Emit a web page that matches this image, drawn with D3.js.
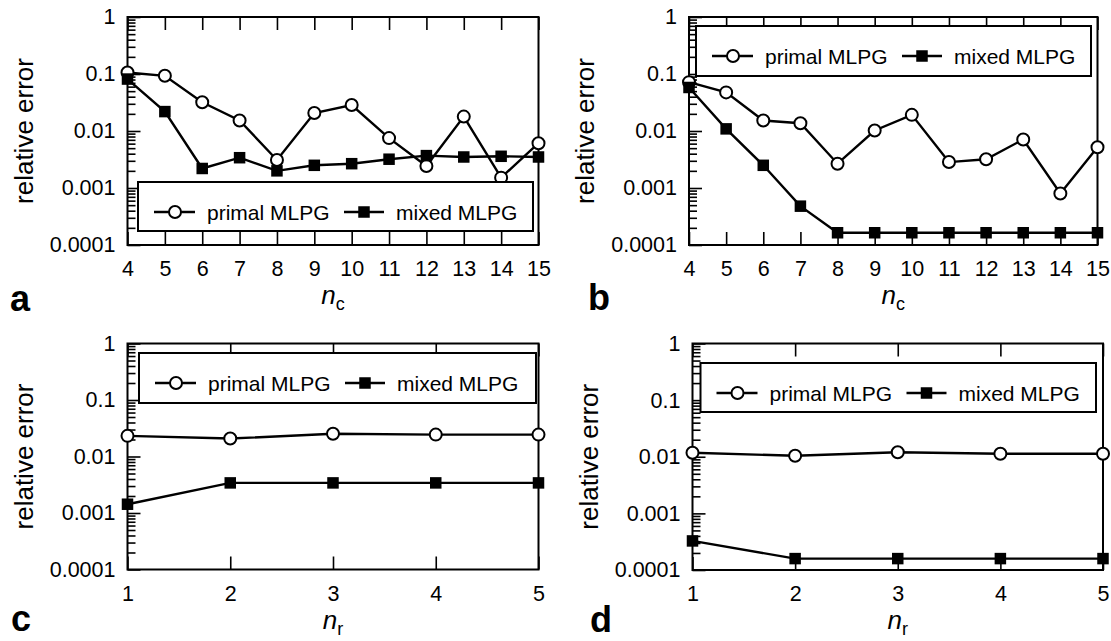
<!DOCTYPE html>
<html>
<head>
<meta charset="utf-8">
<script src="https://cdn.jsdelivr.net/npm/d3@7"></script>
<style>
  html, body { margin: 0; padding: 0; background: #fff; }
  svg { display: block; font-family: "Liberation Sans", Arial, Helvetica, sans-serif; }
  svg text { font-family: "Liberation Sans", Arial, Helvetica, sans-serif; }
</style>
</head>
<body>
<svg id="chart" width="1111" height="641"></svg>
<script>
// ---------- data ----------
const ncValues = [4, 5, 6, 7, 8, 9, 10, 11, 12, 13, 14, 15];
const nrValues = [1, 2, 3, 4, 5];
const yTickValues = [0.0001, 0.001, 0.01, 0.1, 1];
const yTickLabels = ["0.0001", "0.001", "0.01", "0.1", "1"];
const seriesNames = ["primal MLPG", "mixed MLPG"];

const primalA = [0.106, 0.093, 0.032, 0.0153, 0.0031, 0.0207, 0.0286, 0.0075, 0.00243, 0.0179, 0.00152, 0.0061];
const mixedA  = [0.0815, 0.0219, 0.0022, 0.0034, 0.0020, 0.0025, 0.00267, 0.0032, 0.0037, 0.0035, 0.0036, 0.0035];

const primalB = [0.072, 0.0476, 0.0153, 0.0137, 0.00267, 0.0102, 0.0192, 0.00285, 0.0032, 0.0071, 0.0008, 0.0052];
const mixedB  = [0.058, 0.0109, 0.0025, 0.00048, 0.000164, 0.000164, 0.000164, 0.000164, 0.000164, 0.000164, 0.000164, 0.000164];

const primalC = [0.0232, 0.0208, 0.0252, 0.0244, 0.0244];
const mixedC  = [0.00143, 0.00341, 0.00341, 0.00341, 0.00341];

const primalD = [0.0118, 0.0104, 0.0120, 0.0113, 0.0113];
const mixedD  = [0.000326, 0.000159, 0.000159, 0.000159, 0.000159];

// ---------- layout ----------
const panels = [
  { letter: "a", sub: "c", xs: ncValues, primal: primalA, mixed: mixedA,
    left: 127.5, right: 538.5, top: 17, bottom: 245, letterX: 10, letterY: 311,
    legend: { x0: 138, x1: 533, y0: 182, y1: 231 } },
  { letter: "b", sub: "c", xs: ncValues, primal: primalB, mixed: mixedB,
    left: 689, right: 1097.5, top: 17, bottom: 245, letterX: 588, letterY: 310,
    legend: { x0: 696, x1: 1091, y0: 26, y1: 76 } },
  { letter: "c", sub: "r", xs: nrValues, primal: primalC, mixed: mixedC,
    left: 127.5, right: 538.5, top: 343.5, bottom: 569.5, letterX: 11, letterY: 631,
    legend: { x0: 139, x1: 536, y0: 353, y1: 403 } },
  { letter: "d", sub: "r", xs: nrValues, primal: primalD, mixed: mixedD,
    left: 692.5, right: 1103, top: 343.5, bottom: 570, letterX: 590, letterY: 632,
    legend: { x0: 700.5, x1: 1096, y0: 363, y1: 412 } }
];

const svg = d3.select("#chart");
const TICK_FONT = 21.5;
const FONT = "Liberation Sans, Arial, Helvetica, sans-serif";

// minor ticks for log axis
const minorTicks = [];
for (let e = -4; e < 0; e++) {
  for (let m = 2; m <= 9; m++) minorTicks.push(m * Math.pow(10, e));
}

function drawCircle(g, x, y) {
  g.append("circle").attr("cx", x).attr("cy", y).attr("r", 6)
    .attr("fill", "#fff").attr("stroke", "#000").attr("stroke-width", 2);
}
function drawSquare(g, x, y) {
  const s = 11.5;
  g.append("rect").attr("x", x - s / 2).attr("y", y - s / 2)
    .attr("width", s).attr("height", s).attr("fill", "#000");
}
function styleAxis(sel) {
  sel.attr("font-family", FONT).attr("font-size", TICK_FONT);
  sel.select(".domain").remove();
  sel.selectAll("line").attr("stroke-width", 1.6).attr("stroke", "#000");
  sel.selectAll("text").attr("fill", "#000");
}

panels.forEach(p => {
  const x = d3.scaleLinear().domain(d3.extent(p.xs)).range([p.left, p.right]);
  const y = d3.scaleLog().domain([1e-4, 1]).range([p.bottom, p.top]);
  const g = svg.append("g");

  // bottom axis (ticks inward)
  g.append("g").attr("transform", `translate(0,${p.bottom})`)
    .call(d3.axisBottom(x).tickValues(p.xs).tickSizeInner(-13).tickSizeOuter(0)
      .tickPadding(16).tickFormat(d3.format("d")))
    .call(styleAxis);

  // top axis (ticks inward, no labels)
  g.append("g").attr("transform", `translate(0,${p.top})`)
    .call(d3.axisTop(x).tickValues(p.xs).tickSizeInner(-13).tickSizeOuter(0).tickFormat(""))
    .call(styleAxis);

  // left axis: major
  g.append("g").attr("transform", `translate(${p.left},0)`)
    .call(d3.axisLeft(y).tickValues(yTickValues).tickSizeInner(-13).tickSizeOuter(0)
      .tickPadding(12).tickFormat((d, i) => yTickLabels[i]))
    .call(styleAxis);

  // left axis: minor
  g.append("g").attr("transform", `translate(${p.left},0)`)
    .call(d3.axisLeft(y).tickValues(minorTicks).tickSizeInner(-8).tickSizeOuter(0).tickFormat(""))
    .call(styleAxis);

  // frame
  g.append("rect").attr("x", p.left).attr("y", p.top)
    .attr("width", p.right - p.left).attr("height", p.bottom - p.top)
    .attr("fill", "none").attr("stroke", "#000").attr("stroke-width", 2);

  // data lines
  const line = d3.line().x(d => x(d[0])).y(d => y(d[1]));
  const pd = p.xs.map((v, i) => [v, p.primal[i]]);
  const md = p.xs.map((v, i) => [v, p.mixed[i]]);
  g.append("path").datum(pd).attr("d", line).attr("fill", "none")
    .attr("stroke", "#000").attr("stroke-width", 2.4);
  pd.forEach(d => drawCircle(g, x(d[0]), y(d[1])));
  g.append("path").datum(md).attr("d", line).attr("fill", "none")
    .attr("stroke", "#000").attr("stroke-width", 2.4);
  md.forEach(d => drawSquare(g, x(d[0]), y(d[1])));

  // legend
  const L = p.legend;
  g.append("rect").attr("x", L.x0).attr("y", L.y0)
    .attr("width", L.x1 - L.x0).attr("height", L.y1 - L.y0)
    .attr("fill", "#fff").attr("stroke", "#000").attr("stroke-width", 2);
  const ly = L.y0 + 30;
  g.append("line").attr("x1", L.x0 + 16).attr("x2", L.x0 + 57).attr("y1", ly).attr("y2", ly)
    .attr("stroke", "#000").attr("stroke-width", 2.4);
  drawCircle(g, L.x0 + 37, ly);
  g.append("text").attr("x", L.x0 + 69).attr("y", ly + 7.5)
    .attr("font-size", 21).text(seriesNames[0]);
  g.append("line").attr("x1", L.x0 + 206).attr("x2", L.x0 + 246).attr("y1", ly).attr("y2", ly)
    .attr("stroke", "#000").attr("stroke-width", 2.4);
  drawSquare(g, L.x0 + 226, ly);
  g.append("text").attr("x", L.x0 + 258).attr("y", ly + 7.5)
    .attr("font-size", 21).text(seriesNames[1]);

  // y axis title
  const midY = (p.top + p.bottom) / 2;
  g.append("text").attr("transform", `translate(${p.left - 95},${midY}) rotate(-90)`)
    .attr("text-anchor", "middle").attr("font-size", 26).text("relative error");

  // x axis title
  const xt = g.append("text").attr("x", (p.left + p.right) / 2).attr("y", p.bottom + 59)
    .attr("text-anchor", "middle").attr("font-size", 26);
  xt.append("tspan").attr("font-style", "italic").text("n");
  xt.append("tspan").attr("font-size", 18).attr("dy", 6).text(p.sub);

  // panel letter
  g.append("text").attr("x", p.letterX).attr("y", p.letterY)
    .attr("font-size", 36).attr("font-weight", "bold").text(p.letter);
});
</script>
</body>
</html>
